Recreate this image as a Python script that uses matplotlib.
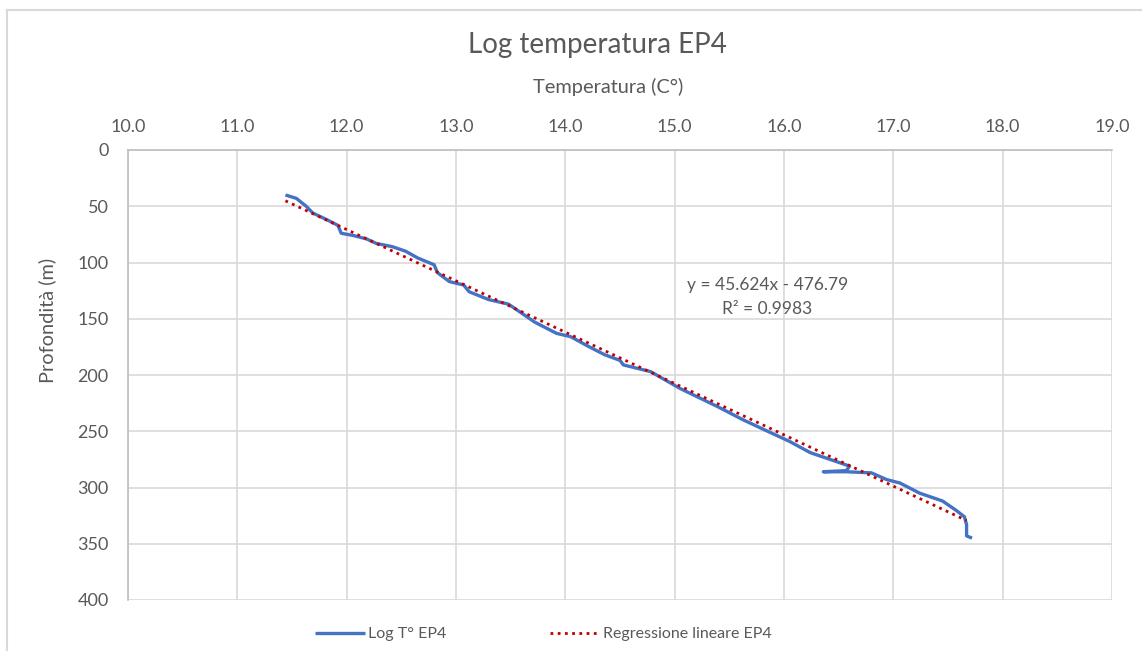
import matplotlib
matplotlib.use("Agg")
import matplotlib.pyplot as plt
from matplotlib.lines import Line2D
import numpy as np

plt.rcParams['font.family'] = ['Lato', 'DejaVu Sans']

# Data (temperature in °C, depth in m)
temperature = [11.44, 11.54, 11.63, 11.69, 11.82, 11.92, 11.95, 12.06, 12.18, 12.27,
               12.42, 12.54, 12.65, 12.80, 12.83, 12.94, 13.07, 13.12, 13.30, 13.48,
               13.60, 13.72, 13.92, 14.05, 14.20, 14.36, 14.50, 14.53, 14.78, 15.05,
               15.39, 15.63, 15.85, 16.05, 16.24, 16.45, 16.60, 16.57, 16.36, 16.57,
               16.80, 16.94, 17.06, 17.24, 17.45, 17.57, 17.65, 17.67, 17.67, 17.72]
depth = [40, 43, 50, 56, 62, 67, 74, 76, 79, 83,
         86, 90, 96, 102, 109, 117, 120, 126, 133, 137,
         145, 153, 163, 166, 174, 182, 187, 191, 197, 212,
         228, 240, 250, 259, 269, 276, 281, 285, 286, 286,
         287, 293, 296, 305, 312, 320, 326, 333, 343, 345]

slope = 45.624
intercept = -476.79
r2 = 0.9983

x_ticks = [10.0, 11.0, 12.0, 13.0, 14.0, 15.0, 16.0, 17.0, 18.0, 19.0]
y_ticks = [0, 50, 100, 150, 200, 250, 300, 350, 400]

W, H = 1142, 651
txt = '#595959'
fig = plt.figure(figsize=(W/100, H/100), dpi=100)
ax = fig.add_axes([128/W, 1 - 600/H, (1112-128)/W, 450/H])

ax.plot(temperature, depth, color='#4472C4', lw=2.4, solid_capstyle='butt',
        label='Log T° EP4', zorder=3)
tx = np.array([min(temperature), 17.67])
ax.plot(tx, slope*tx + intercept, color='#C00000', lw=2.0, linestyle=(0, (1, 1.6)),
        label='Regressione lineare EP4', zorder=4)

ax.set_xlim(10, 19)
ax.set_ylim(400, 0)
ax.set_xticks(x_ticks)
ax.set_xticklabels([f'{v:.1f}' for v in x_ticks])
ax.set_yticks(y_ticks)
ax.xaxis.tick_top()
ax.tick_params(length=0, labelsize=13, colors=txt)
ax.tick_params(axis='x', pad=11)
ax.tick_params(axis='y', pad=14)
ax.grid(True, color='#d9d9d9', lw=1.2)
ax.set_axisbelow(True)
for s in ax.spines.values():
    s.set_visible(False)
for side in ('left', 'top'):
    ax.spines[side].set_visible(True)
    ax.spines[side].set_color('#bfbfbf')
    ax.spines[side].set_linewidth(1.2)

# axis titles
fig.text(608/W, 1 - 93/H, 'Temperatura (C°)', fontsize=14.4, color=txt,
         ha='center', va='baseline')
fig.text(47/W, 1 - 320/H, 'Profondità (m)', fontsize=14.4, color=txt,
         ha='center', va='center', rotation=90)

# regression annotation
ax.text(15.85, (290 - 150) * 400 / 450, f'y = {slope}x - {abs(intercept)}',
        fontsize=12.5, color=txt, ha='center', va='baseline')
ax.text(15.85, (314 - 150) * 400 / 450, f'R² = {r2}',
        fontsize=12.5, color=txt, ha='center', va='baseline')

# chart title
fig.text(597/W, 1 - 53/H, 'Log temperatura EP4', fontsize=20, color=txt,
         ha='center', va='baseline')

leg = fig.legend(loc='center left', bbox_to_anchor=(315/W, 1 - 634/H), ncol=2,
                 frameon=False, fontsize=11.5, handlelength=3.1, columnspacing=6.5,
                 handletextpad=0.2, borderaxespad=0, borderpad=0)
for t in leg.get_texts():
    t.set_color(txt)

# chart-area border (left and top edges visible in the crop)
fig.add_artist(Line2D([7/W, 7/W], [0, 1 - 10/H], transform=fig.transFigure,
                      color='#d9d9d9', lw=1.5))
fig.add_artist(Line2D([7/W, 1], [1 - 10/H, 1 - 10/H], transform=fig.transFigure,
                      color='#d9d9d9', lw=1.5))

fig.savefig('out.png', dpi=100, facecolor='white')
